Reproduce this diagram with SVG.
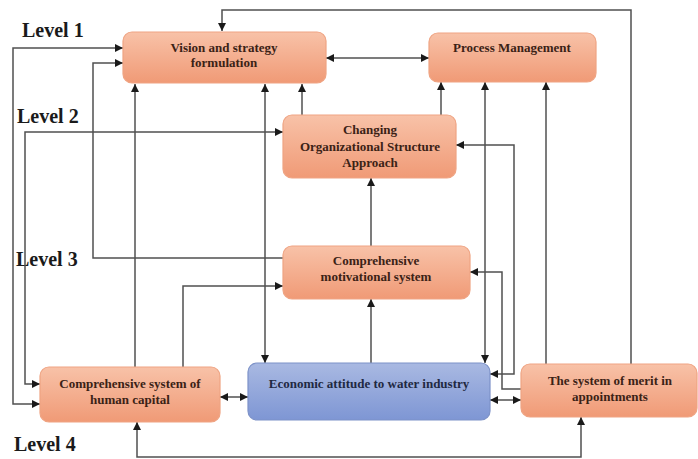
<svg xmlns="http://www.w3.org/2000/svg" width="698" height="459" viewBox="0 0 698 459">
<defs>
<linearGradient id="og" x1="0" y1="0" x2="0" y2="1">
<stop offset="0" stop-color="#f8c2a8"/>
<stop offset="1" stop-color="#f09a76"/>
</linearGradient>
<linearGradient id="bg" x1="0" y1="0" x2="0" y2="1">
<stop offset="0" stop-color="#a9b9e2"/>
<stop offset="1" stop-color="#7e96d4"/>
</linearGradient>
<marker id="ah" markerUnits="userSpaceOnUse" markerWidth="9" markerHeight="8" refX="8" refY="4" orient="auto-start-reverse">
<path d="M0,0 L8,4 L0,8 z" fill="#1a1a1a"/>
</marker>
<style>
.box{fill:url(#og);stroke:#efa483;stroke-width:1.2}
.blue{fill:url(#bg);stroke:#7d92c8;stroke-width:1.2}
.t{font-family:"Liberation Serif","Times New Roman",serif;font-weight:bold;font-size:13px;fill:#3b2216;text-anchor:middle}
.tb{font-family:"Liberation Serif","Times New Roman",serif;font-weight:bold;font-size:13px;fill:#1f2942;text-anchor:middle}
.lv{font-family:"Liberation Serif","Times New Roman",serif;font-weight:bold;font-size:20px;fill:#1a1a1a}
.c{fill:none;stroke:#505050;stroke-width:1.5}
.e{marker-end:url(#ah)}
.b{marker-start:url(#ah);marker-end:url(#ah)}
</style>
</defs>
<rect width="698" height="459" fill="#ffffff"/>
<g id="levels">
<text class="lv" x="22" y="37">Level 1</text>
<text class="lv" x="17" y="123">Level 2</text>
<text class="lv" x="16" y="266">Level 3</text>
<text class="lv" x="14" y="451">Level 4</text>
</g>
<g id="connectors">
<path class="c e" d="M631,364 V10 H222 V31"/>
<path class="c b" d="M123,48 H13 V404 H40"/>
<path class="c b" d="M283,132 H25 V384 H40"/>
<path class="c e" d="M283,258 H93 V63 H123"/>
<path class="c e" d="M135,367 V84"/>
<path class="c e" d="M183,367 V286 H283"/>
<path class="c b" d="M265,84 V363"/>
<path class="c e" d="M302,115 V84"/>
<path class="c b" d="M326,58 H429"/>
<path class="c e" d="M441,115 V82"/>
<path class="c b" d="M485,82 V363"/>
<path class="c b" d="M456,145 H514 V374 H490"/>
<path class="c e" d="M546,364 V82"/>
<path class="c e" d="M521,389 H502 V272 H470"/>
<path class="c b" d="M490,400 H521"/>
<path class="c b" d="M220,397 H248"/>
<path class="c b" d="M137,422 V457 H581 V417"/>
<path class="c e" d="M371,363 V299"/>
<path class="c e" d="M371,246 V178"/>
</g>
<g id="vision">
<rect class="box" x="123" y="32" width="203" height="51" rx="9"/>
<text class="t" x="224" y="52">Vision and strategy</text>
<text class="t" x="224" y="67">formulation</text>
</g>
<g id="process">
<rect class="box" x="429" y="33" width="167" height="49" rx="9"/>
<text class="t" x="512" y="52">Process Management</text>
</g>
<g id="changing">
<rect class="box" x="283" y="115" width="173" height="63" rx="9"/>
<text class="t" x="370" y="134">Changing</text>
<text class="t" x="370" y="151">Organizational Structure</text>
<text class="t" x="370" y="167">Approach</text>
</g>
<g id="motivational">
<rect class="box" x="283" y="246" width="187" height="53" rx="9"/>
<text class="t" x="376" y="265">Comprehensive</text>
<text class="t" x="376" y="281">motivational system</text>
</g>
<g id="human">
<rect class="box" x="40" y="367" width="180" height="55" rx="9"/>
<text class="t" x="130" y="388">Comprehensive system of</text>
<text class="t" x="130" y="404">human capital</text>
</g>
<g id="economic">
<rect class="blue" x="248" y="363" width="242" height="57" rx="9"/>
<text class="tb" x="369" y="388">Economic attitude to water industry</text>
</g>
<g id="merit">
<rect class="box" x="521" y="364" width="176" height="53" rx="9"/>
<text class="t" x="610" y="385">The system of merit in</text>
<text class="t" x="610" y="401">appointments</text>
</g>
</svg>
